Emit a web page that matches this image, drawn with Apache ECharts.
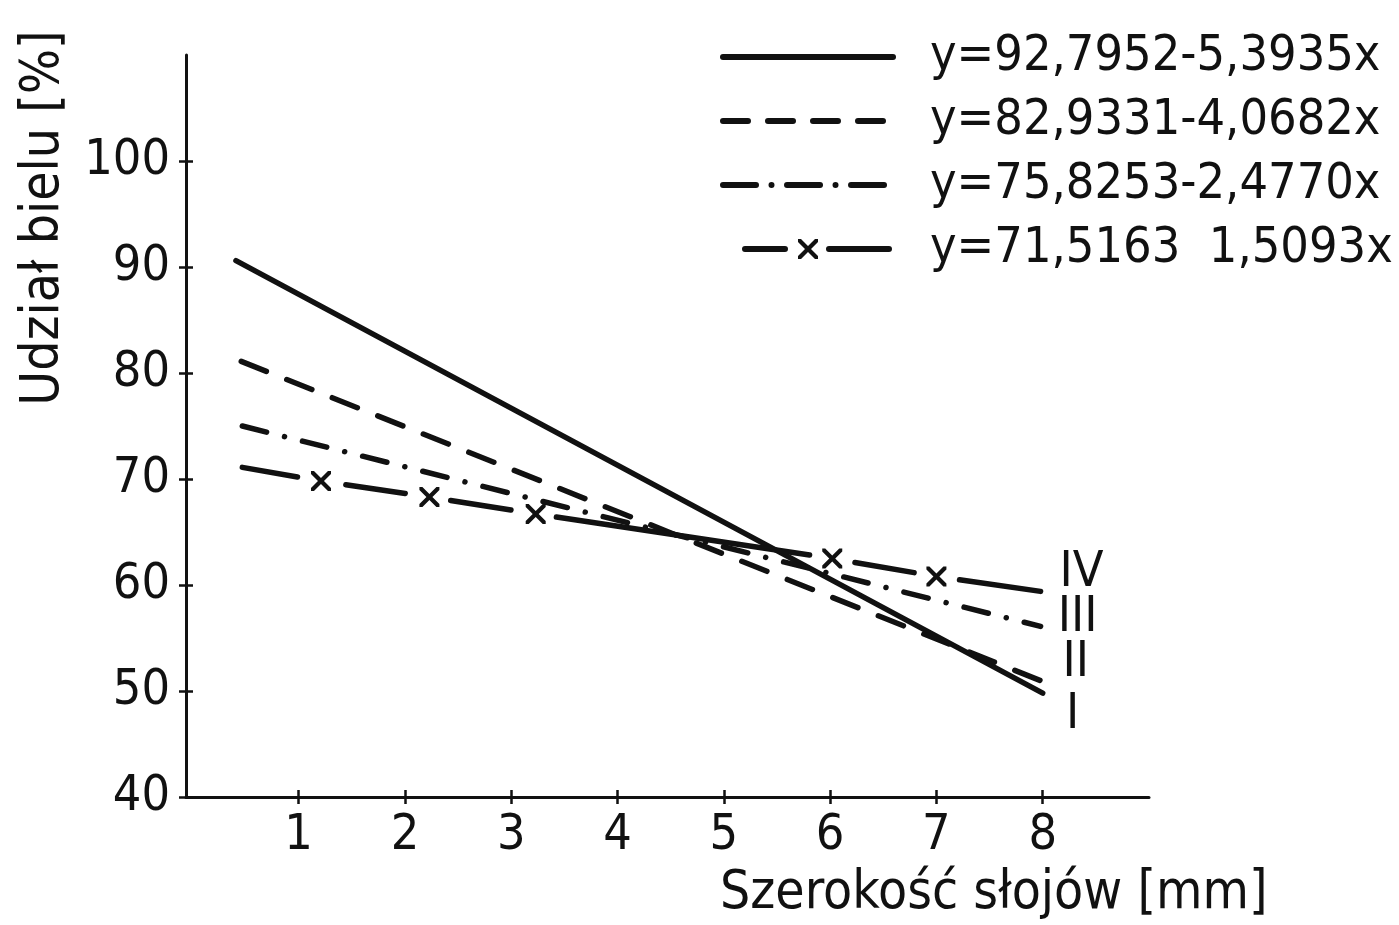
<!DOCTYPE html>
<html>
<head>
<meta charset="utf-8">
<script src="https://cdn.jsdelivr.net/npm/echarts@6/dist/echarts.min.js"></script>
<style>
  html, body { margin: 0; padding: 0; background: #fff; }
  #chart { width: 1399px; height: 925px; }
</style>
</head>
<body>
<div id="chart"></div>
<script>
// values
var xTicks = [1, 2, 3, 4, 5, 6, 7, 8];
var yTicks = [40, 50, 60, 70, 80, 90, 100];

var lineI = [[0.41, 90.6], [8.0, 49.8]];
var lineII = [[0.46, 81.1], [8.0, 50.9]];
var lineIII = [[0.47, 75.0], [7.98, 56.1]];
var lineIV = [[0.47, 71.1], [1.21, 69.8], [2.23, 68.3], [3.23, 66.7], [6.02, 62.5], [7.0, 60.8], [7.98, 59.4]];
var markedIV = [false, true, true, true, true, true, false];

var equations = [
  "y=92,7952-5,3935x",
  "y=82,9331-4,0682x",
  "y=75,8253-2,4770x",
  "y=71,5163  1,5093x"
];
var romans = ["I", "II", "III", "IV"];

var FONT = "'DejaVu Sans Condensed', 'DejaVu Sans', sans-serif";
var INK = "#111";
var crossPath = "path://M0,0 L3,0 L10,7 L17,0 L20,0 L20,3 L13,10 L20,17 L20,20 L17,20 L10,13 L3,20 L0,20 L0,17 L7,10 L0,3 Z";

function romanMark(series, text, offset) {
  var last = series[series.length - 1];
  return {
    silent: true,
    symbol: "circle",
    symbolSize: 0,
    data: [{
      coord: last,
      label: {
        show: true,
        formatter: text,
        position: "inside",
        offset: offset,
        color: INK,
        fontFamily: FONT,
        fontSize: 50
      }
    }]
  };
}

var chart = echarts.init(document.getElementById("chart"));
chart.setOption({
  backgroundColor: "#fff",
  animation: false,
  textStyle: { fontFamily: FONT, color: INK },
  grid: {
    left: 186,
    right: 250,
    top: 55,
    bottom: 128,
    outerBoundsMode: "none"
  },
  legend: {
    orient: "vertical",
    left: 715,
    top: 26,
    itemWidth: 170,
    itemHeight: 25,
    itemGap: 12,
    selectedMode: false,
    textStyle: {
      fontFamily: FONT,
      fontSize: 50,
      lineHeight: 52,
      color: INK,
      padding: [0, 0, 0, 32]
    },
    data: [
      { name: equations[0], itemStyle: { opacity: 0 },
        lineStyle: { width: 6, type: "solid", cap: "round" } },
      { name: equations[1], itemStyle: { opacity: 0 },
        lineStyle: { width: 6, type: [25, 20], cap: "round" } },
      { name: equations[2], itemStyle: { opacity: 0 },
        lineStyle: { width: 6, type: [33, 15.5, 0.01, 15.5], cap: "round" } },
      { name: equations[3],
        lineStyle: { width: 6, type: [40, 44, 60, 22], dashOffset: 144, cap: "round" } }
    ]
  },
  xAxis: [
    {
      type: "value",
      min: -0.06,
      max: 9,
      axisLine: { onZero: false, lineStyle: { color: INK, width: 3 } },
      axisTick: { show: true, length: 7, customValues: xTicks, lineStyle: { color: INK, width: 2.5 } },
      axisLabel: { customValues: xTicks, fontSize: 50, margin: 14, color: INK, fontFamily: FONT },
      splitLine: { show: false }
    },
    {
      type: "value",
      min: -0.06,
      max: 9,
      position: "bottom",
      axisLine: { show: false, onZero: false },
      axisTick: { show: true, inside: true, length: 7, customValues: xTicks, lineStyle: { color: INK, width: 2.5 } },
      axisLabel: { show: false },
      splitLine: { show: false }
    }
  ],
  yAxis: [
    {
      type: "value",
      min: 40,
      max: 110,
      axisLine: { show: true, onZero: false, lineStyle: { color: INK, width: 3 } },
      axisTick: { show: true, length: 7, customValues: yTicks, lineStyle: { color: INK, width: 2.5 } },
      axisLabel: { customValues: yTicks, fontSize: 50, margin: 16, color: INK, fontFamily: FONT },
      splitLine: { show: false }
    },
    {
      type: "value",
      min: 40,
      max: 110,
      position: "left",
      axisLine: { show: false, onZero: false },
      axisTick: { show: true, inside: true, length: 7, customValues: yTicks, lineStyle: { color: INK, width: 2.5 } },
      axisLabel: { show: false },
      splitLine: { show: false }
    }
  ],
  graphic: [
    {
      type: "text",
      left: 720,
      top: 868,
      style: { text: "Szerokość słojów [mm]", font: "53px " + FONT, fill: INK }
    },
    {
      type: "text",
      x: 44,
      y: 218,
      rotation: Math.PI / 2,
      style: {
        text: "Udział bielu [%]",
        font: "53px " + FONT,
        fill: INK,
        align: "center",
        verticalAlign: "middle"
      }
    }
  ],
  series: [
    {
      name: equations[0],
      type: "line",
      data: lineI,
      symbol: "none",
      lineStyle: { color: INK, width: 5.5, cap: "round" },
      itemStyle: { color: INK },
      markPoint: romanMark(lineI, romans[0], [30, 22])
    },
    {
      name: equations[1],
      type: "line",
      data: lineII,
      symbol: "none",
      lineStyle: { color: INK, width: 5.5, type: [27, 22], cap: "round" },
      itemStyle: { color: INK },
      markPoint: romanMark(lineII, romans[1], [33, -18])
    },
    {
      name: equations[2],
      type: "line",
      data: lineIII,
      symbol: "none",
      lineStyle: { color: INK, width: 5.5, type: [25, 18.5, 0.01, 18.5], cap: "round" },
      itemStyle: { color: INK },
      markPoint: romanMark(lineIII, romans[2], [37, -8])
    },
    {
      name: equations[3],
      type: "line",
      data: lineIV.map(function (p, i) {
        return markedIV[i] ? { value: p } : { value: p, symbol: "none" };
      }),
      symbol: crossPath,
      symbolSize: 20,
      showSymbol: true,
      lineStyle: { color: INK, width: 5.5, type: [56, 49, 60, 46, 61, 46, 256, 46, 60, 46, 200], cap: "round" },
      itemStyle: { color: INK },
      markPoint: romanMark(lineIV, romans[3], [41, -18])
    }
  ]
});
</script>
</body>
</html>
